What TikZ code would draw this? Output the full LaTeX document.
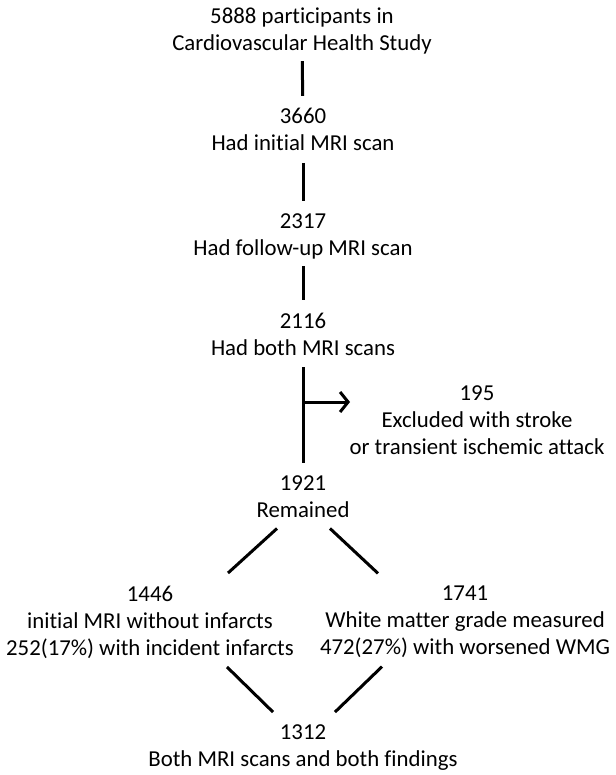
\documentclass[tikz,border=0pt]{standalone}
\usepackage{fontspec}
\setmainfont{Carlito}[Ligatures=NoCommon]
\usetikzlibrary{calc,arrows.meta}

\begin{document}
\begin{tikzpicture}[x=1pt,y=-1pt,
  every node/.style={align=center,inner sep=0pt,font=\fontsize{22.8}{27}\selectfont},
  link/.style={line width=3pt,shorten >=12.5pt},
  diag/.style={line width=3pt}]
  \useasboundingbox (0,0) rectangle (615,775);

  % boxes of the flow
  \node (cohort)  at (302,30.9)  {5888 participants in\\Cardiovascular Health Study};
  \node (initial) at (303,129.8) {3660\\Had initial MRI scan};
  \node (follow)  at (303,236.6) {2317\\Had follow-up MRI scan};
  \node (both)    at (303,334.3) {2116\\Had both MRI scans};
  \node (excl)    at (477,419.8) {195\\Excluded with stroke\\or transient ischemic attack};
  \node (remain)  at (303,496.3) {1921\\Remained};
  \node (infarct) at (150,622)   {1446\\initial MRI without infarcts\\252(17\%) with incident infarcts};
  \node (wmg)     at (465,622)   {1741\\White matter grade measured\\472(27\%) with worsened WMG};
  \node (final)   at (303,747.6) {1312\\Both MRI scans and both findings};

  % trunk
  \draw[link,shorten <=6.8pt] (cohort) -- (initial);
  \draw[link,shorten <=11.5pt] (initial) -- (follow);
  \draw[link,shorten <=6.8pt] (follow) -- (both);
  \draw[link,shorten <=11.5pt] (both) -- (remain);

  % exclusion arrow
  \coordinate (split) at (303,402);
  \coordinate (tip) at (350,402);
  \draw[diag,-{Straight Barb[length=8pt,width=20pt]}] (split) -- (tip);

  % split and join
  \draw[diag] ($(remain.south)+(-26,11)$) -- ($(infarct.north)+(78,-12.5)$);
  \draw[diag] ($(remain.south)+(27,11)$) -- ($(wmg.north)+(-87,-12.5)$);
  \draw[diag] ($(infarct.south)+(77,8.5)$) -- ($(final.north)+(-30,-12.5)$);
  \draw[diag] ($(wmg.south)+(-83,8.5)$) -- ($(final.north)+(32,-12.5)$);
\end{tikzpicture}
\end{document}
